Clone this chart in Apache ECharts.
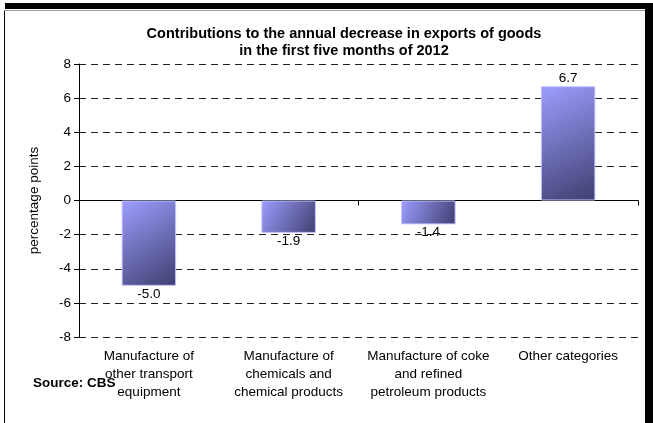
<!DOCTYPE html>
<html>
<head>
<meta charset="utf-8">
<script src="https://cdn.jsdelivr.net/npm/echarts@6/dist/echarts.min.js"></script>
<style>
  html, body { margin: 0; padding: 0; background: #fff; }
  #chart { width: 653px; height: 423px; }
</style>
</head>
<body>
<div id="chart"></div>
<script>
// chart data
var categories = [
  "Manufacture of\nother transport\nequipment",
  "Manufacture of\nchemicals and\nchemical products",
  "Manufacture of coke\nand refined\npetroleum products",
  "Other categories"
];
var values = [-5.0, -1.9, -1.4, 6.7];
var yMin = -8;
var yMax = 8;
var yStep = 2;

var font = "Liberation Sans, Arial, sans-serif";

var chart = echarts.init(document.getElementById("chart"));

var barColor = new echarts.graphic.LinearGradient(0, 0, 1, 1, [
  { offset: 0, color: "#9d9dff" },
  { offset: 1, color: "#3f3f70" }
]);

chart.setOption({
  animation: false,
  textStyle: { fontFamily: font },
  title: {
    text: "Contributions to the annual decrease in exports of goods\nin the first five months of 2012",
    left: 339,
    textAlign: "center",
    top: 20,
    textStyle: {
      fontFamily: font,
      fontSize: 14.5,
      fontWeight: "bold",
      color: "#000",
      lineHeight: 17
    }
  },
  grid: {
    left: 79,
    right: 15,
    top: 64,
    bottom: 86,
    containLabel: false,
    outerBoundsMode: "none"
  },
  xAxis: [
    {
      // zero line with ticks
      type: "category",
      data: categories,
      position: "top",
      axisLine: { onZero: true, lineStyle: { color: "#000", width: 1 } },
      axisTick: { show: true, length: 5, inside: true, lineStyle: { color: "#000" } },
      axisLabel: { show: false }
    },
    {
      // category labels under the plot
      type: "category",
      data: categories,
      position: "bottom",
      axisLine: { show: false, onZero: false },
      axisTick: { show: false },
      axisLabel: {
        margin: 10,
        interval: 0,
        color: "#000",
        fontSize: 13.5,
        fontFamily: font,
        lineHeight: 18
      }
    }
  ],
  yAxis: {
    type: "value",
    min: yMin,
    max: yMax,
    interval: yStep,
    name: "percentage points",
    nameLocation: "middle",
    nameGap: 38,
    nameTextStyle: { color: "#000", fontSize: 13.5, fontFamily: font },
    axisLine: { show: true, lineStyle: { color: "#000", width: 1 } },
    axisTick: { show: true, length: 5, lineStyle: { color: "#000" } },
    axisLabel: { color: "#000", fontSize: 13.5, fontFamily: font, margin: 8 },
    splitLine: {
      show: true,
      lineStyle: { color: "#222", type: [7, 5], width: 1 }
    }
  },
  series: [
    {
      type: "bar",
      xAxisIndex: 0,
      data: values.map(function (v) {
        return {
          value: v,
          label: { position: v < 0 ? "bottom" : "top" }
        };
      }),
      barWidth: "39%",
      itemStyle: {
        color: barColor,
        borderColor: "#c4c4ff",
        borderWidth: 1
      },
      label: {
        show: true,
        distance: 1,
        color: "#000",
        fontSize: 13.5,
        fontFamily: font,
        formatter: function (p) {
          return p.value.toFixed(1);
        }
      }
    }
  ],
  graphic: [
    // frame
    { type: "rect", shape: { x: 5, y: 3, width: 648, height: 6 }, style: { fill: "#000" } },
    { type: "rect", shape: { x: 645, y: 3, width: 8, height: 420 }, style: { fill: "#000" } },
    { type: "line", shape: { x1: 4.5, y1: 10, x2: 4.5, y2: 423 }, style: { stroke: "#000", lineWidth: 1 } },
    { type: "line", shape: { x1: 4, y1: 10.5, x2: 645, y2: 10.5 }, style: { stroke: "#999", lineWidth: 1 } },
    {
      type: "text",
      left: 33,
      top: 376,
      style: {
        text: "Source: CBS",
        fill: "#000",
        font: "bold 13.5px " + font
      }
    }
  ]
});
</script>
</body>
</html>
